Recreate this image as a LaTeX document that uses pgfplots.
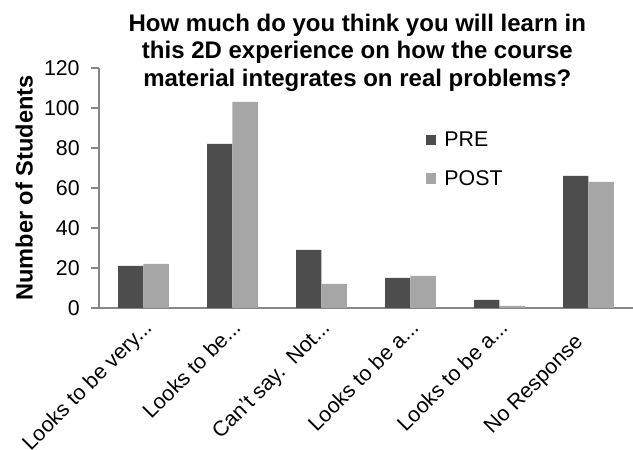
\documentclass[border=0pt]{standalone}
\usepackage{pgfplots}
\pgfplotsset{compat=1.18}
\usepackage{fontspec}
\setmainfont{Liberation Sans}
\definecolor{preC}{HTML}{4D4D4D}
\definecolor{postC}{HTML}{A6A6A6}
\definecolor{axC}{HTML}{878787}
\newcommand{\tdots}{.\kern0pt.\kern0pt.}
\begin{document}
\begin{tikzpicture}
\path[use as bounding box] (0,0) rectangle (474.75pt,337.5pt);
\begin{axis}[
  at={(74.25pt,106.5pt)}, anchor=south west,
  scale only axis, width=400.5pt, height=180pt,
  ybar=0pt, bar width=19.1pt,
  xmin=-0.5, xmax=5.5, ymin=0, ymax=120,
  ytick={0,20,...,120},
  axis lines*=left,
  axis line style={axC, line width=1pt},
  tick style={axC, line width=1pt},
  tick align=outside,
  major tick length=6pt,
  xtick={0,1,2,3,4,5},
  xticklabels={{Looks to be very\tdots},{Looks to be\tdots},{Can't say.\ \ Not\tdots},{Looks to be a\tdots},{Looks to be a\tdots},{No Response\hspace*{15pt}}},
  x tick style={draw=none},
  extra x ticks={-0.5,0.5,1.5,2.5,3.5,4.5,5.5},
  extra x tick labels={},
  extra x tick style={tick style={axC, line width=1pt}},
  x tick label style={xshift=7.2pt, yshift=-9.8pt, rotate=45, anchor=base east, inner sep=0pt, font=\fontsize{16}{18}\selectfont},
  y tick label style={font=\fontsize{16}{18}\selectfont, xshift=-5pt},
  /pgf/number format/assume math mode=true,
  ylabel={\bfseries Number of Students},
  ylabel style={font=\fontsize{17.7}{19}\selectfont, yshift=1.5pt},
  legend style={draw=none, fill=none, at={(0.611,0.747)}, anchor=north west,
    font=\fontsize{16}{18}\selectfont, row sep=12.5pt, column sep=4pt, inner sep=0pt},
  legend cell align=left,
  legend image code/.code={\fill[#1] (0pt,-4.1pt) rectangle (8.2pt,4.1pt);},
]
\addplot[fill=preC, draw=none] coordinates {(0,21) (1,82) (2,29) (3,15) (4,4) (5,66)};
\addplot[fill=postC, draw=none] coordinates {(0,22) (1,103) (2,12) (3,16) (4,1) (5,63)};
\legend{PRE,POST}
\end{axis}
\node[align=center, anchor=north, font=\fontsize{18}{20.6}\selectfont\bfseries] at (268pt,330.5pt)
 {How much do you think you will learn in\\this 2D experience on how the course\\material integrates on real problems?};
\end{tikzpicture}
\end{document}
